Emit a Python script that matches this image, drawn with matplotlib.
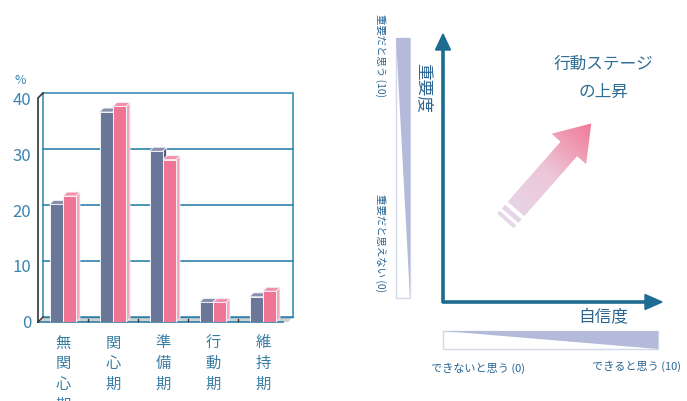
import numpy as np
import matplotlib
matplotlib.use("Agg")
import matplotlib.pyplot as plt
from matplotlib.patches import Polygon, Rectangle
from matplotlib.colors import LinearSegmentedColormap

plt.rcParams['font.family'] = ['Noto Sans CJK JP', 'DejaVu Sans']

# ---- data ----
categories = ["無関心期", "関心期", "準備期", "行動期", "維持期"]
male = [21.0, 37.5, 30.5, 3.5, 4.5]
female = [22.5, 38.5, 29.0, 3.5, 5.5]
yticks = [0, 10, 20, 30, 40]
series_names = ["男性", "女性"]

W, H = 687, 401
fig = plt.figure(figsize=(W / 100, H / 100), dpi=100)

# overlay axes in pixel coordinates for the diagram
ov = fig.add_axes([0, 0, 1, 1])
ov.set_xlim(0, W)
ov.set_ylim(H, 0)
ov.axis('off')
ov.set_zorder(0)

# ---- bar chart ----
ax = fig.add_axes([38 / W, (H - 322) / H, 250 / W, 224 / H])
ax.set_zorder(1)
ax.patch.set_alpha(0)
ax.set_xlim(-0.5, 4.5)
ax.set_ylim(0, 40)
for s in ax.spines.values():
    s.set_visible(False)

teal = '#2f82ab'
tick_col = '#3a86b0'
dxw, dyw = 0.1, 0.9  # back wall offset
# back wall
ax.add_patch(Rectangle((-0.5 + dxw, dyw), 5, 40, facecolor='white',
                       edgecolor='#3d8db5', lw=1.2, zorder=0, clip_on=False))
for v in yticks[1:-1]:
    ax.plot([-0.5 + dxw, 4.5 + dxw], [v + dyw, v + dyw], color=teal, lw=1.2,
            zorder=0.5, clip_on=False)
# floor
ax.add_patch(Polygon([(-0.5, 0), (4.5, 0), (4.5 + dxw, dyw), (-0.5 + dxw, dyw)],
                     closed=True, facecolor='#cdd1d1', edgecolor='none', zorder=0.6,
                     clip_on=False))
ax.plot([-0.5 + dxw, 4.5 + dxw], [dyw, dyw], color=teal, lw=1.0, zorder=0.7, clip_on=False)
ax.plot([-0.5, 4.4], [0, 0], color='#2f7ea6', lw=1.2, zorder=0.7, clip_on=False)
for b in [0.5, 1.5, 2.5, 3.5]:
    ax.plot([b, b], [0.1, 0.6], color='#333333', lw=1, zorder=0.7, clip_on=False)
# front left axis
ax.plot([-0.5, -0.5, -0.5 + dxw], [0, 40, 40 + dyw], color='#333333', lw=1.2,
        zorder=0.8, clip_on=False)
ax.plot([-0.5, -0.5 + dxw], [0, dyw], color='#333333', lw=1.0, zorder=0.8, clip_on=False)

x = np.arange(len(categories))
bw = 0.26
dx, dy = 0.08, 0.7
specs = [(male, -0.14, '#6b7799', '#8690ad', '#56617f'),
         (female, 0.13, '#f07494', '#f690aa', '#f5a6ba')]
for vals, off, cf, ct, cs in specs:
    xs = x + off
    ax.bar(xs, vals, width=bw, color=cf, edgecolor='#f4f4f8', lw=0.7, zorder=2)
    for xi, h in zip(xs, vals):
        x0, x1 = xi - bw / 2, xi + bw / 2
        ax.add_patch(Polygon([(x0, h), (x1, h), (x1 + dx, h + dy), (x0 + dx, h + dy)],
                             closed=True, facecolor=ct, edgecolor='#f4f4f8', lw=0.6,
                             zorder=2, clip_on=False))
        ax.add_patch(Polygon([(x1, 0), (x1 + dx, dy), (x1 + dx, h + dy), (x1, h)],
                             closed=True, facecolor=cs, edgecolor='#f4f4f8', lw=0.6,
                             zorder=1.9, clip_on=False))

ax.set_yticks(yticks)
ax.set_yticklabels([str(v) for v in yticks], color=tick_col, fontsize=12)
ax.set_xticks(x)
ax.set_xticklabels(["\n".join(c) for c in categories], color='#3a7ea5', fontsize=11,
                   linespacing=1.28, va='top')
ax.tick_params(axis='both', length=0)
ax.tick_params(axis='y', pad=5)
ax.tick_params(axis='x', pad=9)

fig.text(20 / W, 1 - 80 / H, '%', color=tick_col, fontsize=9, ha='center', va='center')
ov.text(165, 130, series_names[0], color='#6b7799', fontsize=12, ha='center', va='center')
ov.text(205, 173, series_names[1], color='#f07494', fontsize=12, ha='center', va='center')

# ---- right diagram ----
axis_col = '#1c6b91'
ov.plot([443, 443], [303, 46], color=axis_col, lw=2.6, solid_capstyle='butt')
ov.plot([442, 648], [302, 302], color=axis_col, lw=2.6, solid_capstyle='butt')
ov.add_patch(Polygon([(443, 34), (435.5, 50), (450.5, 50)], closed=True, color=axis_col))
ov.add_patch(Polygon([(662, 302), (645, 294.5), (645, 309.5)], closed=True, color=axis_col))

grad_col = '#b4bad9'
ov.add_patch(Rectangle((396, 38), 14, 260, facecolor='none', edgecolor='#d3d7ec', lw=1))
ov.add_patch(Polygon([(396, 38), (410, 38), (410, 298)], closed=True, facecolor=grad_col,
                     edgecolor='none'))
ov.add_patch(Rectangle((443, 331), 215, 18, facecolor='none', edgecolor='#d3d7ec', lw=1))
ov.add_patch(Polygon([(443, 331), (658, 331), (658, 349)], closed=True, facecolor=grad_col,
                     edgecolor='none'))

txt_col = '#2a6592'
ov.text(603, 64, '行動ステージ', color='#2f6d95', fontsize=12, ha='center', va='center')
ov.text(603, 92, 'の上昇', color='#2f6d95', fontsize=12, ha='center', va='center')
ov.text(423, 88, '重要度', color=txt_col, fontsize=12, ha='center', va='center', rotation=270)
ov.text(603, 318, '自信度', color=txt_col, fontsize=12, ha='center', va='center')
ov.text(380, 56, '重要だと思う (10)', color=txt_col, fontsize=7.5, ha='center', va='center',
        rotation=270)
ov.text(380, 243, '重要だと思えない (0)', color=txt_col, fontsize=7.5, ha='center', va='center',
        rotation=270)
ov.text(478, 368, 'できないと思う (0)', color=txt_col, fontsize=8, ha='center', va='center')
ov.text(637, 366, 'できると思う (10)', color=txt_col, fontsize=8, ha='center', va='center')

# gradient arrow
d = np.array([0.66, -0.75]); d = d / np.linalg.norm(d)
n = np.array([-d[1], d[0]])
base = np.array([516.0, 209.0])
def P(s, t):
    p = base + s * d + t * n
    return (p[0], p[1])
hw, hh, L_body, L_tip = 11, 23, 80, 114
arrow = [P(0, -hw), P(L_body, -hw), P(L_body, -hh), P(L_tip, 0), P(L_body, hh),
         P(L_body, hw), P(0, hw)]
stripes = [[P(-4, -hw), P(-4, hw), P(-9, hw), P(-9, -hw)],
           [P(-12, -hw), P(-12, hw), P(-16, hw), P(-16, -hw)]]
cmap = LinearSegmentedColormap.from_list('ar', ['#e6d8ea', '#ecc6d8', '#f27a98'])
gx0, gx1, gy0, gy1 = 480, 600, 110, 240
gxs = np.linspace(gx0, gx1, 240)
gys = np.linspace(gy0, gy1, 260)
GX, GY = np.meshgrid(gxs, gys)
S = (GX - base[0]) * d[0] + (GY - base[1]) * d[1]
Z = np.clip((S + 16) / (L_tip + 16), 0, 1)
for poly in [arrow] + stripes:
    pp = Polygon(poly, closed=True, facecolor='none', edgecolor='none')
    ov.add_patch(pp)
    im = ov.imshow(Z, extent=(gx0, gx1, gy1, gy0), origin='upper', cmap=cmap,
                   vmin=0, vmax=1, aspect='auto', interpolation='bilinear')
    im.set_clip_path(pp)
ov.set_xlim(0, W)
ov.set_ylim(H, 0)

fig.savefig('out.png', dpi=100)
